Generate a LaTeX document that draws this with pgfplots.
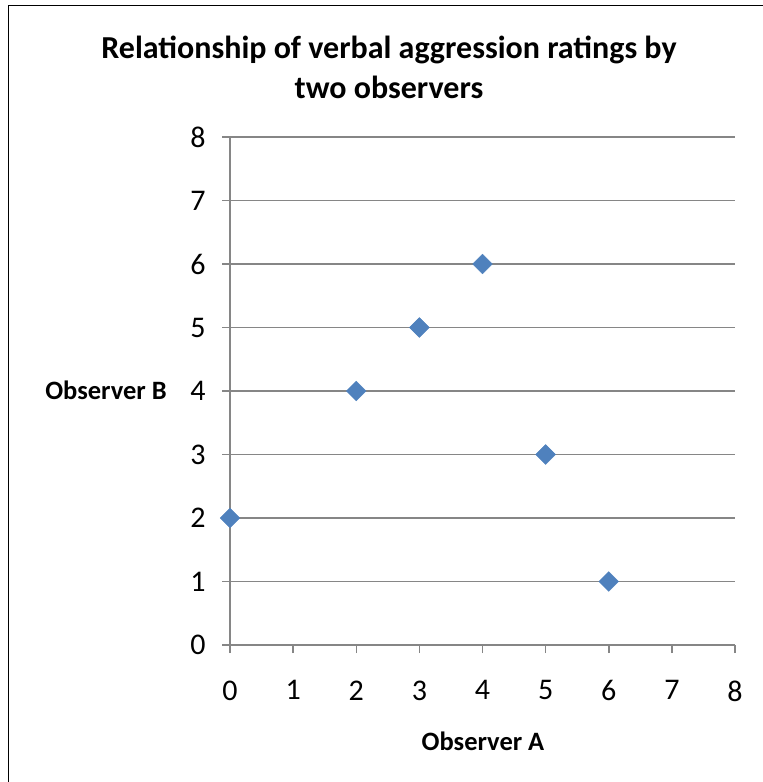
\documentclass[border=0pt]{standalone}
\usepackage{pgfplots}
\pgfplotsset{compat=1.18}
\usepackage{fontspec}
\setmainfont{Carlito}
\definecolor{gridgray}{HTML}{868686}
\definecolor{mblue}{HTML}{4F81BD}
\begin{document}
\begin{tikzpicture}[x=1pt,y=1pt]
\path[use as bounding box] (0,0) rectangle (763,-782);
\draw[line width=1.5pt] (8.5,-782) -- (8.5,-5.5) -- (763,-5.5);
\begin{axis}[
  at={(230pt,-645pt)}, anchor=south west,
  scale only axis, width=505pt, height=508pt,
  xmin=0, xmax=8, ymin=0, ymax=8,
  xtick={0,...,8}, ytick={0,...,8},
  axis x line*=bottom, axis y line*=left,
  axis line style={gridgray, line width=1.5pt, -},
  ymajorgrids, grid style={gridgray, line width=1.5pt},
  major tick style={gridgray, line width=1.5pt},
  tick align=outside, major tick length=8pt,
  ticklabel style={font=\fontsize{30}{34}\selectfont, text=black},
  xticklabel style={yshift=-24pt},
  yticklabel style={xshift=-13pt},
  /pgf/number format/assume math mode=true,
  clip=false,
]
\addplot[only marks, mark=square*, mark size=7pt, mark options={rotate=45, fill=mblue, draw=mblue}]
  coordinates {(0,2) (2,4) (3,5) (4,6) (5,3) (6,1)};
\end{axis}
\node[font=\bfseries\fontsize{32}{36}\selectfont] at (389,-50) {Relationship of verbal aggression ratings by};
\node[font=\bfseries\fontsize{32}{36}\selectfont] at (389,-87) {two observers};
\node[font=\bfseries\fontsize{26.5}{30}\selectfont] at (106,-390) {Observer B};
\node[font=\bfseries\fontsize{26.5}{30}\selectfont] at (483,-741) {Observer A};
\end{tikzpicture}
\end{document}
